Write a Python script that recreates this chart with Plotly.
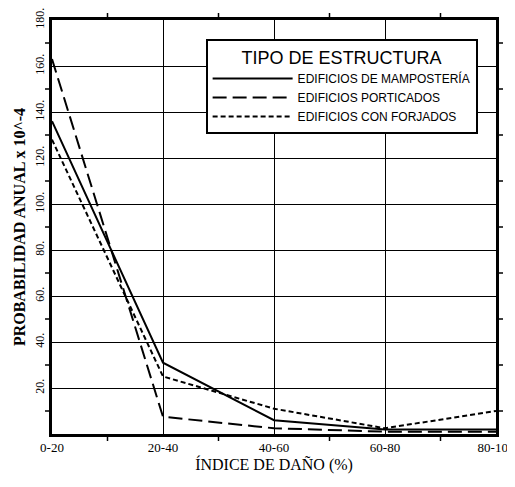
import plotly.graph_objects as go

categories = ["0-20", "20-40", "40-60", "60-80", "80-100"]
mamposteria = [136, 31, 6, 2, 2]
porticados = [163, 7.5, 2.5, 1, 1]
forjados = [128, 25, 11, 2.5, 10]
y_tickvals = [20, 40, 60, 80, 100, 120, 140, 160, 180]
y_ticktext = ["20.", "40.", "60.", "80.", "100.", "120.", "140.", "160.", "180."]
x_minor = [0.5, 1.5, 2.5, 3.5]
y_minor = [10, 30, 50, 70, 90, 110, 130, 150, 170]

xpos = list(range(len(categories)))
serif = "Liberation Serif, Times New Roman, serif"
sans = "Liberation Sans, Arial, sans-serif"

fig = go.Figure()
fig.add_trace(go.Scatter(x=xpos, y=mamposteria, mode="lines", name="EDIFICIOS DE MAMPOSTERÍA",
                         line=dict(color="black", width=2, dash="solid")))
fig.add_trace(go.Scatter(x=xpos, y=porticados, mode="lines", name="EDIFICIOS PORTICADOS",
                         line=dict(color="black", width=2, dash="14px,6px")))
fig.add_trace(go.Scatter(x=xpos, y=forjados, mode="lines", name="EDIFICIOS CON FORJADOS",
                         line=dict(color="black", width=2, dash="5px,3px")))

# The page body keeps its default 8px margin, so the figure is sized to fill the rest of the window
W, H = 507, 479
ML, MR, MT, MB = 44, 19, 12, 53
PW, PH = W - ML - MR, H - MT - MB
TL = 7  # minor tick length in px

# minor ticks on all four sides, drawn as axis decorations
tick_style = dict(color="black", width=1.5)
shapes = []
for v in x_minor:
    shapes.append(dict(type="line", xref="x", yref="paper", x0=v, x1=v, y0=0, y1=-TL / PH, line=tick_style))
    shapes.append(dict(type="line", xref="x", yref="paper", x0=v, x1=v, y0=1, y1=1 + TL / PH, line=tick_style))
for v in y_minor:
    shapes.append(dict(type="line", xref="paper", yref="y", x0=0, x1=-TL / PW, y0=v, y1=v, line=tick_style))
    shapes.append(dict(type="line", xref="paper", yref="y", x0=1, x1=1 + TL / PW, y0=v, y1=v, line=tick_style))

fig.update_layout(
    width=W, height=H,
    margin=dict(l=ML, r=MR, t=MT, b=MB),
    paper_bgcolor="white", plot_bgcolor="white",
    font=dict(family=serif, color="black", size=13),
    shapes=shapes,
    legend=dict(
        x=0.346, y=0.955, xanchor="left", yanchor="top",
        bordercolor="black", borderwidth=2, bgcolor="white",
        font=dict(family=sans, size=12),
        title=dict(text="TIPO DE ESTRUCTURA", side="top center", font=dict(family=sans, size=18)),
        itemwidth=80, tracegroupgap=0,
    ),
    xaxis=dict(
        range=[0, 4], tickmode="array", tickvals=xpos, ticktext=categories,
        showgrid=True, gridcolor="black", gridwidth=1.3,
        showline=True, linecolor="black", linewidth=2.5, mirror=True,
        ticks="", zeroline=False, automargin=False, ticklabeloverflow="allow",
        tickfont=dict(family=serif, size=13),
        title=dict(text="ÍNDICE DE DAÑO (%)", font=dict(family=serif, size=16), standoff=4),
    ),
    yaxis=dict(
        range=[0, 180], tickmode="array", tickvals=y_tickvals, ticktext=y_ticktext,
        tickangle=-90,
        showgrid=True, gridcolor="black", gridwidth=1.3,
        showline=True, linecolor="black", linewidth=2.5, mirror=True,
        ticks="", zeroline=False, automargin=False, ticklabeloverflow="allow",
        tickfont=dict(family=serif, size=12),
        title=dict(text="<b>PROBABILIDAD ANUAL x 10^-4</b>", font=dict(family=serif, size=16), standoff=4),
    ),
    showlegend=True,
)

fig.write_html("out.html")
